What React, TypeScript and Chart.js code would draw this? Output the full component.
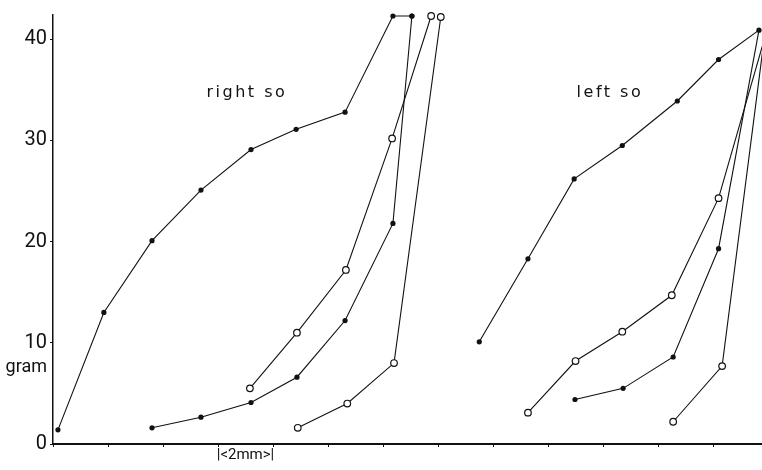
import { useEffect, useRef } from 'react';
import { Chart, registerables } from 'chart.js';

Chart.register(...registerables);

// x in mm, y in gram
const rightFilledTopX = [0.18, 1.85, 3.6, 5.38, 7.2, 8.84, 10.62, 12.36, 13.05];
const rightFilledTopY = [1.4, 13.0, 20.1, 25.1, 29.1, 31.1, 32.8, 42.3, 42.3];

const rightFilledLowX = [3.6, 5.38, 7.2, 8.87, 10.62, 12.36, 13.05];
const rightFilledLowY = [1.6, 2.65, 4.1, 6.6, 12.2, 21.8, 42.3];

const rightOpenUpperX = [7.16, 8.87, 10.65, 12.33, 13.75];
const rightOpenUpperY = [5.5, 11.0, 17.2, 30.2, 42.3];

const rightOpenLowerX = [8.9, 10.7, 12.4, 14.1];
const rightOpenLowerY = [1.6, 4.0, 8.0, 42.2];

const leftFilledTopX = [15.5, 17.27, 18.95, 20.7, 22.7, 24.2, 25.67];
const leftFilledTopY = [10.1, 18.3, 26.2, 29.5, 33.9, 38.0, 40.9];

const leftOpenUpperX = [17.27, 19.0, 20.7, 22.5, 24.2, 25.96];
const leftOpenUpperY = [3.1, 8.2, 11.1, 14.7, 24.3, 40.9];

const leftFilledLowX = [18.98, 20.73, 22.55, 24.2, 25.67];
const leftFilledLowY = [4.4, 5.5, 8.6, 19.3, 40.9];

const leftOpenLowerX = [22.55, 24.33, 25.9];
const leftOpenLowerY = [2.2, 7.7, 40.9];

const yTickValues = [0, 10, 20, 30, 40];
const yAxisTitle = 'gram';
const scaleNote = '|<2mm>|';
const groupLabels = ['right so', 'left so'];

const X_MAX = 25.78;
const Y_MAX = 42.4;

const FONT = 'Roboto, "DejaVu Sans", sans-serif';

function pts(xs: number[], ys: number[]) {
  return xs.map((x, i) => ({ x, y: ys[i] }));
}

function filled(xs: number[], ys: number[], hideLast = false) {
  return {
    data: pts(xs, ys),
    borderColor: '#111',
    borderWidth: 1.1,
    pointRadius: xs.map((_, i) => (hideLast && i === xs.length - 1 ? 0 : 2.6)),
    pointBackgroundColor: '#111',
    pointBorderWidth: 0,
    pointStyle: 'circle',
    showLine: true,
    tension: 0,
    clip: false as const,
  };
}

function open(xs: number[], ys: number[], hideLast = false) {
  return {
    data: pts(xs, ys),
    borderColor: '#111',
    borderWidth: 1.1,
    pointRadius: xs.map((_, i) => (hideLast && i === xs.length - 1 ? 0 : 3.3)),
    pointBackgroundColor: '#fff',
    pointBorderColor: '#111',
    pointBorderWidth: 1.2,
    pointStyle: 'circle',
    showLine: true,
    tension: 0,
    clip: false as const,
  };
}

const annotationPlugin = {
  id: 'annotations',
  afterDraw(chart: any) {
    const { ctx, scales } = chart;
    const x = scales.x;
    const y = scales.y;
    ctx.save();
    ctx.fillStyle = '#111';
    ctx.textBaseline = 'middle';
    ctx.font = '16px "DejaVu Sans", sans-serif';
    (ctx as any).letterSpacing = '2.5px';
    ctx.textAlign = 'center';
    ctx.fillText(groupLabels[0], x.getPixelForValue(7.05), y.getPixelForValue(34.7));
    ctx.fillText(groupLabels[1], x.getPixelForValue(20.25), y.getPixelForValue(34.7));
    (ctx as any).letterSpacing = '0px';
    ctx.font = '18px ' + FONT;
    ctx.textAlign = 'right';
    ctx.fillText(yAxisTitle, x.left - 6, y.getPixelForValue(7.6));
    ctx.font = '15px ' + FONT;
    ctx.textAlign = 'center';
    ctx.textBaseline = 'top';
    ctx.fillText(scaleNote, x.getPixelForValue(7), y.bottom + 4);
    ctx.restore();
  },
};

export default function App() {
  const ref = useRef<HTMLCanvasElement | null>(null);

  useEffect(() => {
    document.body.style.margin = '0';
    const canvas = ref.current;
    if (!canvas) return;
    const chart = new Chart(canvas, {
      type: 'scatter',
      data: {
        datasets: [
          filled(rightFilledTopX, rightFilledTopY),
          filled(rightFilledLowX, rightFilledLowY),
          open(rightOpenUpperX, rightOpenUpperY),
          open(rightOpenLowerX, rightOpenLowerY),
          filled(leftFilledTopX, leftFilledTopY),
          open(leftOpenUpperX, leftOpenUpperY, true),
          filled(leftFilledLowX, leftFilledLowY, true),
          open(leftOpenLowerX, leftOpenLowerY, true),
        ] as any,
      },
      options: {
        responsive: false,
        animation: false,
        devicePixelRatio: 1,
        layout: { autoPadding: false, padding: { top: 12, left: 0, right: 0, bottom: 0 } },
        plugins: {
          legend: { display: false },
          tooltip: { enabled: false },
        },
        scales: {
          x: {
            type: 'linear',
            min: 0,
            max: X_MAX,
            ticks: { display: false, stepSize: 2, includeBounds: false },
            grid: { drawOnChartArea: false, drawTicks: true, tickLength: 3, color: '#111' },
            border: { display: true, color: '#111', width: 2 },
            afterFit: (s: any) => {
              s.height = 26;
            },
          },
          y: {
            type: 'linear',
            min: 0,
            max: Y_MAX,
            afterBuildTicks: (s: any) => {
              s.ticks = yTickValues.map((v) => ({ value: v }));
            },
            ticks: {
              stepSize: 10,
              includeBounds: false,
              color: '#111',
              padding: 3,
              font: { family: FONT, size: 20 },
              callback: (v: any) => String(v),
            },
            grid: { drawOnChartArea: false, drawTicks: true, tickLength: 3, color: '#111' },
            border: { display: true, color: '#111', width: 1.5 },
            afterFit: (s: any) => {
              s.width = 53;
            },
          },
        },
      },
      plugins: [annotationPlugin],
    });
    return () => chart.destroy();
  }, []);

  return (
    <div style={{ width: 762, height: 470, background: '#fff' }}>
      <canvas ref={ref} width={762} height={470} style={{ display: 'block' }} />
    </div>
  );
}
